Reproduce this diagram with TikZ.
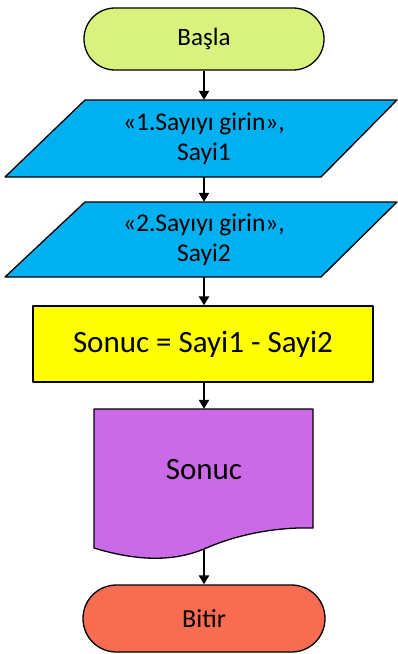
\documentclass[tikz,border=0pt]{standalone}
\usepackage{fontspec}
\setmainfont{Carlito}
\usetikzlibrary{arrows.meta}
\definecolor{cstart}{RGB}{217,242,125}
\definecolor{cin}{RGB}{0,176,240}
\definecolor{cproc}{RGB}{255,255,0}
\definecolor{cdoc}{RGB}{203,106,230}
\definecolor{cend}{RGB}{248,108,82}
\begin{document}
\begin{tikzpicture}[x=1pt,y=-1pt,
  outl/.style={draw=black,line width=1.3pt,line join=round},
  term/.style={outl,inner sep=0pt,font=\fontsize{25}{28}\selectfont},
  txt/.style={inner sep=0pt,align=center,font=\fontsize{25.5}{30}\selectfont},
  arr/.style={line width=2.5pt,-{Triangle[length=9pt,width=10pt]},shorten >=0pt}]
\useasboundingbox (0,0) rectangle (398,654);
% start
\node[term,fill=cstart,minimum width=240pt,minimum height=62pt,rounded corners=30.9pt] (start) at (204,39) {Başla};
% input 1
\draw[outl,fill=cin] (85,100) -- (397,100) -- (321,177) -- (5,177) -- cycle;
\node[txt,minimum width=220pt,minimum height=77pt] (in1) at (204,138.5) {«1.Sayıyı girin»,\\Sayi1};
% input 2
\draw[outl,fill=cin] (85,202) -- (397,202) -- (321,277) -- (5,277) -- cycle;
\node[txt,minimum width=220pt,minimum height=75pt] (in2) at (204,239.5) {«2.Sayıyı girin»,\\Sayi2};
% process
\node[outl,fill=cproc,minimum width=340pt,minimum height=76pt,inner sep=0pt,font=\fontsize{31}{34}\selectfont] (proc) at (203,344) {Sonuc = Sayi1 - Sayi2};
% document
\draw[outl,fill=cdoc] (94,409) -- (313,409) -- (313,528)
  .. controls (280,527) and (240,533) .. (204,549)
  .. controls (175,561) and (140,562) .. (94,548) -- cycle;
\node[inner sep=0pt,minimum width=219pt,minimum height=140pt] (doc) at (204,479) {};
\node[inner sep=0pt,font=\fontsize{31}{34}\selectfont] (doctxt) at (204,470) {Sonuc};
% end
\node[term,fill=cend,minimum width=242pt,minimum height=67pt,rounded corners=33.4pt,font=\fontsize{26}{30}\selectfont] (end) at (204,618.5) {Bitir};
% arrows
\draw[arr] (start) -- (in1);
\draw[arr] (in1) -- (in2);
\draw[arr] (in2) -- (proc.north -| in2.south);
\draw[arr] (proc.south -| in2.south) -- (doc);
\draw[arr] (doc) -- (end);
\end{tikzpicture}
\end{document}
